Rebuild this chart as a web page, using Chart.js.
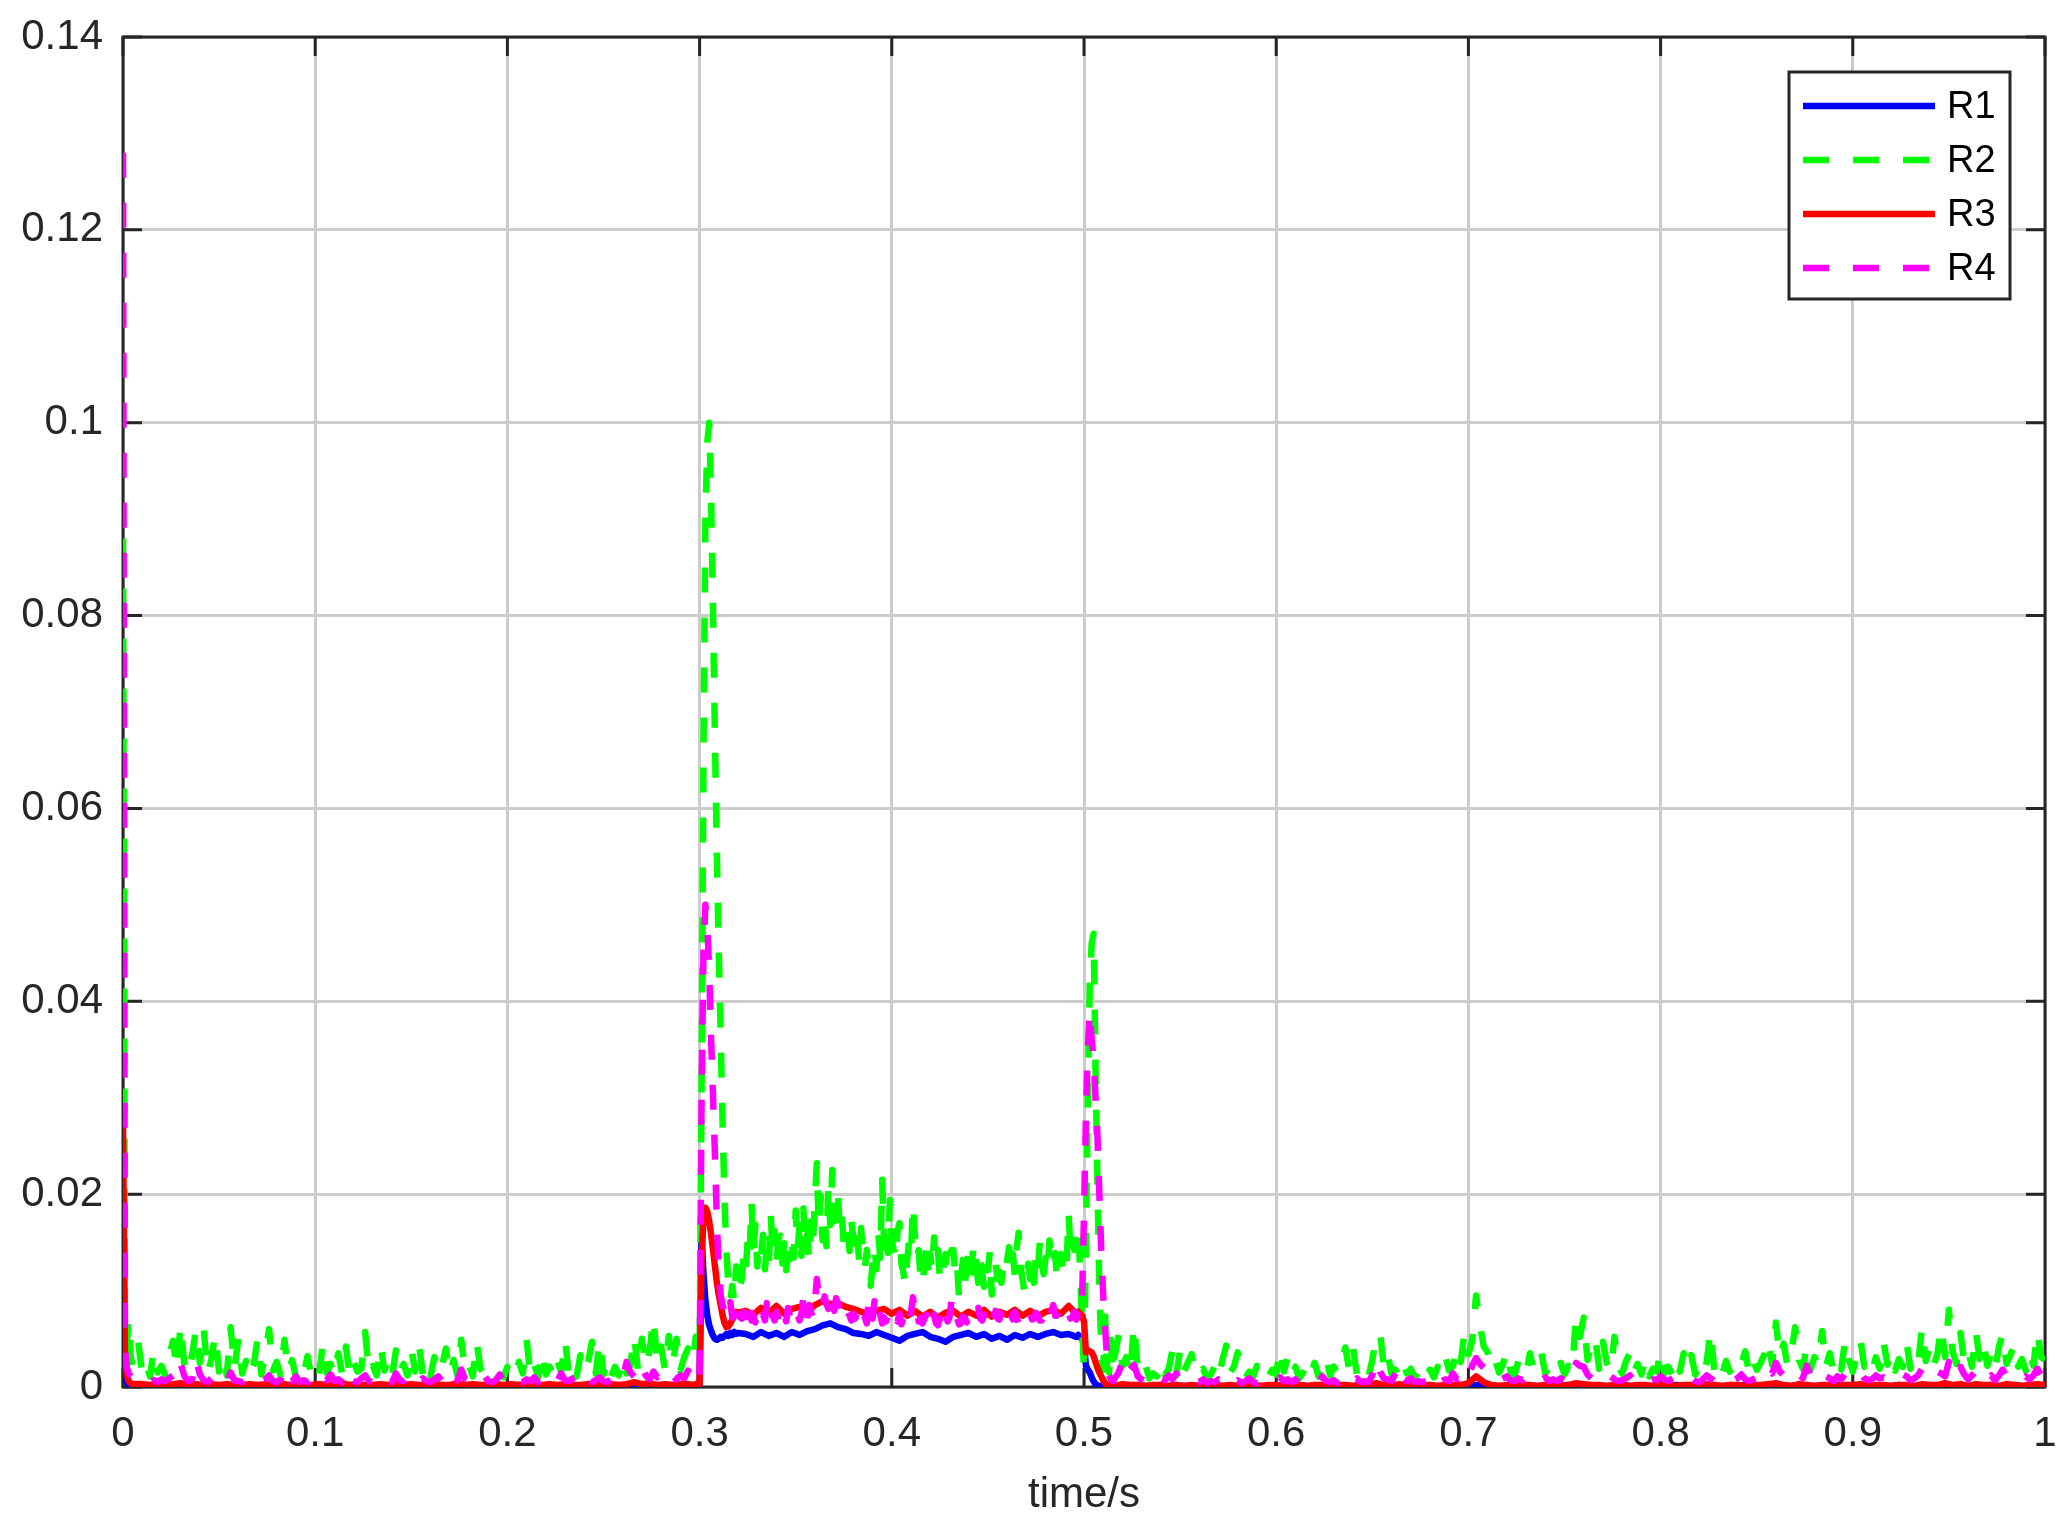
<!DOCTYPE html>
<html>
<head>
<meta charset="utf-8">
<title>R1 - R4</title>
<script src="https://cdn.jsdelivr.net/npm/chart.js@4.4.1/dist/chart.umd.min.js"></script>
<style>
  html, body { margin: 0; padding: 0; background: #fff; }
  canvas { display: block; }
</style>
</head>
<body>
<canvas id="chart" width="2070" height="1535"></canvas>
<script>
// sampling segments: [start time (s), step (s)] - finer around the switching events
const coarseSegments = [[0, 0.001], [0.010, 0.004], [0.297, 0.001], [0.324, 0.004], [0.497, 0.001], [0.520, 0.004]];
const fineSegments = [[0, 0.001], [0.008, 0.002], [0.297, 0.001], [0.322, 0.001], [0.497, 0.001], [0.518, 0.002]];

// R1 and R3 on the coarse segments
const r1 = [
  [0.02, 0.0015, 0.0005, 0.0002, 0.0001, 0.0001, 0.0001],
  [0.0001, 0.0001, 0.0002, 0.0001, 0.0001, 0.0002, 0.0001, 0.0001, 0.0001, 0.0002,
   0.0001, 0.0001, 0.0001, 0.0002, 0.0001, 0.0001, 0.0002, 0.0001, 0.0001, 0.0001,
   0.0002, 0.0001, 0.0001, 0.0001, 0.0002, 0.0001, 0.0001, 0.0002, 0.0001, 0.0001,
   0.0001, 0.0002, 0.0001, 0.0001, 0.0001, 0.0002, 0.0001, 0.0001, 0.0002, 0.0001,
   0.0001, 0.0001, 0.0002, 0.0001, 0.0001, 0.0001, 0.0002, 0.0001, 0.0001, 0.0002,
   0.0001, 0.0001, 0.0001, 0.0002, 0.0001, 0.0001, 0.0002, 0.0001, 0.0001, 0.0001,
   0.0002, 0.0001, 0.0001, 0.0001, 0.0002, 0.0001, 0.0002, 0.0001, 0.0001, 0.0002,
   0.0001, 0.0002],
  [0.0001, 0.0001, 0.0002, 0.0002, 0.0158, 0.0118, 0.009, 0.0074, 0.0064, 0.0058,
   0.0053, 0.005, 0.0049, 0.005, 0.0052, 0.0051, 0.0053, 0.0055, 0.0053, 0.0056,
   0.0054, 0.0057, 0.0055, 0.0056],
  [0.0055, 0.0052, 0.0057, 0.0053, 0.0056, 0.0052, 0.0057, 0.0054, 0.0058, 0.006,
   0.0064, 0.0066, 0.0062, 0.006, 0.0056, 0.0055, 0.0053, 0.0057, 0.0054, 0.0051,
   0.0048, 0.0053, 0.0055, 0.0057, 0.0052, 0.005, 0.0047, 0.0052, 0.0054, 0.0056,
   0.0052, 0.0055, 0.005, 0.0053, 0.0049, 0.0054, 0.0051, 0.0055, 0.0052, 0.0055,
   0.0057, 0.0054, 0.0055, 0.0052],
  [0.0054, 0.0052, 0.005, 0.0045, 0.0022, 0.0018, 0.0015, 0.001, 0.0006, 0.0003,
   0.0002, 0.0001, 0.0001, 0.0001, 0.0001, 0.0001, 0.0001, 0.0001, 0.0001, 0.0001],
  [0.0001, 0.0001, 0.0002, 0.0001, 0.0001, 0.0001, 0.0001, 0.0002, 0.0001, 0.0001,
   0.0001, 0.0002, 0.0001, 0.0001, 0.0001, 0.0001, 0.0002, 0.0001, 0.0001, 0.0001,
   0.0001, 0.0001, 0.0001, 0.0002, 0.0001, 0.0001, 0.0001, 0.0001, 0.0002, 0.0001,
   0.0001, 0.0002, 0.0001, 0.0001, 0.0001, 0.0001, 0.0002, 0.0001, 0.0001, 0.0001,
   0.0001, 0.0001, 0.0001, 0.0001, 0.0002, 0.0001, 0.0002, 0.0001, 0.0001, 0.0001,
   0.0001, 0.0001, 0.0002, 0.0001, 0.0001, 0.0001, 0.0001, 0.0001, 0.0002, 0.0001,
   0.0002, 0.0001, 0.0001, 0.0001, 0.0001, 0.0002, 0.0001, 0.0001, 0.0001, 0.0001,
   0.0001, 0.0001, 0.0002, 0.0001, 0.0001, 0.0001, 0.0002, 0.0001, 0.0001, 0.0001,
   0.0001, 0.0002, 0.0001, 0.0001, 0.0001, 0.0002, 0.0001, 0.0001, 0.0002, 0.0001,
   0.0001, 0.0001, 0.0001, 0.0002, 0.0001, 0.0001, 0.0001, 0.0002, 0.0001, 0.0001,
   0.0001, 0.0002, 0.0001, 0.0001, 0.0001, 0.0002, 0.0001, 0.0001, 0.0001, 0.0002,
   0.0001, 0.0001, 0.0001, 0.0002, 0.0001, 0.0001, 0.0002, 0.0001, 0.0001, 0.0001,
   0.0001]
];

const r3 = [
  [0.027, 0.003, 0.0012, 0.0006, 0.0004, 0.0003, 0.0003],
  [0.0003, 0.0002, 0.0003, 0.0002, 0.0003, 0.0004, 0.0002, 0.0003, 0.0002, 0.0003,
   0.0002, 0.0003, 0.0002, 0.0002, 0.0003, 0.0002, 0.0003, 0.0002, 0.0004, 0.0002,
   0.0003, 0.0002, 0.0002, 0.0003, 0.0002, 0.0003, 0.0004, 0.0002, 0.0003, 0.0002,
   0.0002, 0.0003, 0.0002, 0.0003, 0.0002, 0.0003, 0.0002, 0.0002, 0.0003, 0.0002,
   0.0002, 0.0004, 0.0002, 0.0003, 0.0002, 0.0002, 0.0003, 0.0002, 0.0003, 0.0002,
   0.0003, 0.0002, 0.0002, 0.0003, 0.0002, 0.0003, 0.0002, 0.0002, 0.0003, 0.0003,
   0.0002, 0.0003, 0.0002, 0.0003, 0.0005, 0.0003, 0.0004, 0.0002, 0.0003, 0.0002,
   0.0003, 0.0003],
  [0.0002, 0.0003, 0.0002, 0.0003, 0.013, 0.0175, 0.0186, 0.0182, 0.0172, 0.0158,
   0.0142, 0.0125, 0.0108, 0.0095, 0.0085, 0.0074, 0.0066, 0.0062, 0.0063, 0.0066,
   0.007, 0.0074, 0.0078, 0.0077],
  [0.0079, 0.0075, 0.0082, 0.0077, 0.0084, 0.0076, 0.0081, 0.0083, 0.0077, 0.0085,
   0.0089, 0.0086, 0.0087, 0.0083, 0.0081, 0.0078, 0.0076, 0.0079, 0.0081, 0.0076,
   0.008, 0.0074, 0.0079, 0.0073, 0.0078, 0.0072, 0.0077, 0.0079, 0.0073, 0.0078,
   0.0074, 0.008, 0.0073, 0.0078, 0.0075, 0.008, 0.0074, 0.0079, 0.0073, 0.0078,
   0.008, 0.0076, 0.0084, 0.0076],
  [0.0078, 0.0076, 0.0074, 0.0068, 0.0036, 0.0038, 0.0037, 0.0036, 0.0032, 0.0026,
   0.002, 0.0015, 0.0011, 0.0007, 0.0004, 0.0002, 0.0002, 0.0001, 0.0002, 0.0001],
  [0.0003, 0.0002, 0.0002, 0.0001, 0.0002, 0.0002, 0.0001, 0.0002, 0.0001, 0.0002,
   0.0001, 0.0002, 0.0002, 0.0001, 0.0002, 0.0001, 0.0002, 0.0002, 0.0001, 0.0002,
   0.0002, 0.0001, 0.0002, 0.0002, 0.0001, 0.0002, 0.0002, 0.0001, 0.0002, 0.0002,
   0.0001, 0.0002, 0.0002, 0.0004, 0.0002, 0.0001, 0.0003, 0.0002, 0.0001, 0.0002,
   0.0002, 0.0001, 0.0002, 0.0002, 0.0002, 0.0004, 0.0011, 0.0005, 0.0002, 0.0001,
   0.0002, 0.0001, 0.0002, 0.0002, 0.0001, 0.0002, 0.0002, 0.0001, 0.0002, 0.0004,
   0.0003, 0.0002, 0.0002, 0.0001, 0.0002, 0.0002, 0.0001, 0.0002, 0.0002, 0.0001,
   0.0002, 0.0002, 0.0001, 0.0002, 0.0002, 0.0001, 0.0003, 0.0002, 0.0001, 0.0002,
   0.0002, 0.0001, 0.0002, 0.0002, 0.0003, 0.0004, 0.0002, 0.0001, 0.0003, 0.0002,
   0.0001, 0.0002, 0.0002, 0.0001, 0.0002, 0.0002, 0.0003, 0.0001, 0.0002, 0.0002,
   0.0001, 0.0002, 0.0002, 0.0001, 0.0003, 0.0002, 0.0002, 0.0004, 0.0002, 0.0003,
   0.0001, 0.0003, 0.0002, 0.0002, 0.0001, 0.0003, 0.0002, 0.0001, 0.0002, 0.0003,
   0.0002]
];

// R2 and R4 on the fine segments
const r2 = [
  [0.088, 0.0065, 0.0045, 0.007, 0.0032, 0.0022, 0.0035],
  [0.0046, 0.0013, 0.0024, 0.0011, 0.0038, 0.0015, 0.0022, 0.0012, 0.0031, 0.0048,
   0.0018, 0.0065, 0.0021, 0.0013, 0.0034, 0.006, 0.0025, 0.006, 0.0014, 0.0029,
   0.0055, 0.0016, 0.0031, 0.0012, 0.0062, 0.0019, 0.005, 0.0014, 0.0027, 0.0011,
   0.0023, 0.005, 0.0013, 0.0035, 0.006, 0.0017, 0.0026, 0.0012, 0.0049, 0.0016,
   0.0028, 0.001, 0.0021, 0.0013, 0.0032, 0.0011, 0.0019, 0.0012, 0.0046, 0.0015,
   0.0024, 0.0012, 0.0035, 0.0014, 0.0042, 0.0011, 0.0026, 0.0016, 0.0019, 0.0057,
   0.0014, 0.0022, 0.0012, 0.0044, 0.0017, 0.0028, 0.0011, 0.0038, 0.0015, 0.0024,
   0.0012, 0.004, 0.0016, 0.0044, 0.0013, 0.0025, 0.0011, 0.0031, 0.0014, 0.0022,
   0.004, 0.0013, 0.0028, 0.0012, 0.0049, 0.0016, 0.0023, 0.0011, 0.0047, 0.0019,
   0.0013, 0.0009, 0.0017, 0.0008, 0.0012, 0.001, 0.0021, 0.0009, 0.0015, 0.0026,
   0.0014, 0.0049, 0.0012, 0.0024, 0.001, 0.0037, 0.0013, 0.0021, 0.0011, 0.0028,
   0.0015, 0.0049, 0.0012, 0.0022, 0.0011, 0.0033, 0.0016, 0.0026, 0.0047, 0.0014,
   0.0048, 0.0013, 0.0027, 0.0011, 0.0021, 0.0012, 0.003, 0.0014, 0.0023, 0.0053,
   0.0016, 0.005, 0.0021, 0.0038, 0.0072, 0.0024, 0.0042, 0.0018, 0.0053, 0.0022,
   0.005, 0.0017, 0.0031, 0.004, 0.0026],
  [0.0035, 0.0052, 0.003, 0.004, 0.03, 0.065, 0.09, 0.098, 0.1, 0.092,
   0.08, 0.067, 0.055, 0.045, 0.036, 0.027, 0.019, 0.014, 0.0105, 0.009,
   0.0105, 0.0088, 0.0125, 0.0098],
  [0.0112, 0.0138, 0.0121, 0.0152, 0.0135, 0.0192, 0.0141, 0.0168, 0.0125, 0.0148,
   0.0136, 0.0158, 0.0122, 0.0147, 0.0128, 0.018, 0.0139, 0.0162, 0.0126, 0.0154,
   0.0157, 0.0128, 0.0149, 0.0121, 0.0138, 0.0125, 0.0146, 0.0134, 0.0183, 0.0142,
   0.0168, 0.0136, 0.0185, 0.0144, 0.0158, 0.0131, 0.0172, 0.0149, 0.0195, 0.0232,
   0.0165, 0.0198, 0.0152, 0.0178, 0.0146, 0.0205, 0.0168, 0.0225, 0.0172, 0.0189,
   0.02, 0.0162, 0.0178, 0.0148, 0.0153, 0.0166, 0.0141, 0.0172, 0.0152, 0.0139,
   0.0158, 0.0131, 0.0165, 0.0138, 0.0124, 0.0142, 0.0118, 0.0105, 0.0128, 0.0146,
   0.0122, 0.0158, 0.0134, 0.0215, 0.0145, 0.0168, 0.0139, 0.0194, 0.0152, 0.0141,
   0.0132, 0.0162, 0.017, 0.0128, 0.0119, 0.0105, 0.0132, 0.0151, 0.0138, 0.019,
   0.0158, 0.0133, 0.0142, 0.0112, 0.0105, 0.0128, 0.0146, 0.0124, 0.0138, 0.0121,
   0.0155, 0.0129, 0.0142, 0.0112, 0.0108, 0.0124, 0.0138, 0.0118, 0.0132, 0.0142,
   0.0142, 0.0117, 0.0128, 0.009, 0.0112, 0.0132, 0.0106, 0.0126, 0.0138, 0.0115,
   0.0135, 0.015, 0.0124, 0.0108, 0.0132, 0.0118, 0.0104, 0.0129, 0.0121, 0.014,
   0.0096, 0.0118, 0.0128, 0.0112, 0.0135, 0.0108, 0.0124, 0.0115, 0.0131, 0.0145,
   0.0122, 0.0138, 0.0116, 0.0145, 0.016, 0.0124, 0.0112, 0.0099, 0.0118, 0.0128,
   0.0112, 0.0126, 0.0108, 0.0138, 0.0121, 0.015, 0.0128, 0.0117, 0.0134, 0.0121,
   0.0152, 0.0132, 0.0125, 0.0139, 0.011, 0.0124, 0.0138, 0.0119, 0.0132, 0.0128,
   0.018, 0.0138, 0.0152, 0.0142, 0.0165],
  [0.0168, 0.012, 0.0065, 0.0015, 0.015, 0.03, 0.042, 0.046, 0.047, 0.033,
   0.021, 0.01, 0.004, 0.0018, 0.0073, 0.0022, 0.0015, 0.0049, 0.0014, 0.0032],
  [0.0054, 0.0022, 0.0031, 0.0012, 0.0065, 0.0018, 0.0028, 0.0023, 0.0009, 0.0014,
   0.0011, 0.0026, 0.0013, 0.0018, 0.0038, 0.0012, 0.0038, 0.0016, 0.0025, 0.0034,
   0.0011, 0.0015, 0.0019, 0.0009, 0.0013, 0.0022, 0.001, 0.0028, 0.0043, 0.0015,
   0.0021, 0.0036, 0.0012, 0.0009, 0.0016, 0.0011, 0.0022, 0.0009, 0.0014, 0.0011,
   0.0018, 0.0013, 0.004, 0.0016, 0.003, 0.0012, 0.0021, 0.0009, 0.0015, 0.0024,
   0.0013, 0.0025, 0.0011, 0.0019, 0.0032, 0.0012, 0.0021, 0.0014, 0.0027, 0.0041,
   0.0018, 0.004, 0.0013, 0.0022, 0.0016, 0.0011, 0.0028, 0.0052, 0.0057, 0.0021,
   0.0035, 0.0013, 0.0018, 0.0011, 0.0025, 0.0014, 0.0019, 0.001, 0.0016, 0.0023,
   0.0012, 0.0018, 0.001, 0.0021, 0.0015, 0.0032, 0.0017, 0.0022, 0.0041, 0.0026,
   0.0057, 0.0034, 0.0048, 0.0095, 0.0064, 0.0042, 0.0036, 0.0019, 0.0027, 0.0015,
   0.0024, 0.0038, 0.0016, 0.0012, 0.0027, 0.0019, 0.0013, 0.0035, 0.0017, 0.0024,
   0.0035, 0.0014, 0.0021, 0.0012, 0.0018, 0.0025, 0.0013, 0.0022, 0.0017, 0.0073,
   0.0052, 0.0072, 0.0028, 0.0045, 0.0052, 0.0019, 0.0047, 0.0025, 0.0016, 0.0052,
   0.0022, 0.0014, 0.0027, 0.0035, 0.0015, 0.0024, 0.0013, 0.0029, 0.0011, 0.0019,
   0.0016, 0.0038, 0.0014, 0.0021, 0.0013, 0.0028, 0.0016, 0.0035, 0.0019, 0.0033,
   0.0013, 0.0021, 0.0012, 0.0026, 0.0059, 0.0015, 0.0022, 0.0012, 0.0027, 0.0016,
   0.0021, 0.0014, 0.0024, 0.0037, 0.0015, 0.0029, 0.0018, 0.0025, 0.0034, 0.0049,
   0.0023, 0.0067, 0.0031, 0.0045, 0.0022, 0.0036, 0.0062, 0.0028, 0.0019, 0.0043,
   0.0018, 0.0031, 0.0024, 0.0058, 0.0021, 0.0035, 0.0016, 0.0027, 0.0018, 0.0049,
   0.0028, 0.0016, 0.0033, 0.0049, 0.0021, 0.0026, 0.0015, 0.0031, 0.0019, 0.0047,
   0.0023, 0.0035, 0.0017, 0.0029, 0.0021, 0.0046, 0.0019, 0.0033, 0.0025, 0.0062,
   0.0027, 0.0041, 0.0022, 0.0034, 0.0063, 0.0031, 0.008, 0.0036, 0.0024, 0.0056,
   0.0026, 0.0038, 0.0021, 0.0058, 0.0029, 0.0046, 0.0022, 0.0035, 0.0019, 0.0041,
   0.0055, 0.0024, 0.0033, 0.0044, 0.0021, 0.0029, 0.0017, 0.0036, 0.0022, 0.0058,
   0.0031, 0.0028]
];

const r4 = [
  [0.128, 0.0045, 0.002, 0.0014, 0.0011, 0.0009, 0.0008],
  [0.0008, 0.0006, 0.0009, 0.0005, 0.0007, 0.0005, 0.0008, 0.0006, 0.0009, 0.0012,
   0.0007, 0.0024, 0.0011, 0.0006, 0.0008, 0.0029, 0.0013, 0.0007, 0.0005, 0.0009,
   0.0012, 0.0006, 0.0008, 0.0005, 0.0015, 0.0007, 0.0006, 0.0005, 0.0009, 0.0006,
   0.0005, 0.0009, 0.0006, 0.0008, 0.0012, 0.0006, 0.0005, 0.0008, 0.002, 0.0009,
   0.0006, 0.0011, 0.0005, 0.0007, 0.0005, 0.0009, 0.0006, 0.0005, 0.0012, 0.0007,
   0.0013, 0.0006, 0.0008, 0.0005, 0.0017, 0.0008, 0.0006, 0.0005, 0.0009, 0.0012,
   0.0006, 0.0005, 0.0008, 0.0011, 0.0006, 0.0009, 0.0005, 0.0014, 0.0007, 0.0006,
   0.0012, 0.0006, 0.0008, 0.0005, 0.0009, 0.0006, 0.0005, 0.0008, 0.0011, 0.0006,
   0.0006, 0.0009, 0.0016, 0.0007, 0.0018, 0.0008, 0.0005, 0.0007, 0.0005, 0.0006,
   0.0012, 0.0006, 0.0005, 0.0007, 0.0013, 0.0006, 0.0005, 0.0009, 0.0011, 0.0006,
   0.0005, 0.0008, 0.0006, 0.001, 0.0005, 0.0007, 0.0006, 0.0012, 0.0007, 0.0006,
   0.0014, 0.0007, 0.0006, 0.0009, 0.0011, 0.0006, 0.0013, 0.0008, 0.0005, 0.0007,
   0.001, 0.0006, 0.0005, 0.0009, 0.0012, 0.0007, 0.0009, 0.0026, 0.0015, 0.0011,
   0.0009, 0.0022, 0.0012, 0.0008, 0.0016, 0.001, 0.0012, 0.0009, 0.0017, 0.0011,
   0.0008, 0.0012, 0.0009, 0.0017, 0.0011],
  [0.0008, 0.0012, 0.0006, 0.001, 0.03, 0.045, 0.05, 0.048, 0.043, 0.036,
   0.03, 0.024, 0.017, 0.012, 0.0095, 0.0085, 0.0078, 0.0082, 0.0075, 0.0088,
   0.0072, 0.008, 0.0092, 0.0074],
  [0.0071, 0.0078, 0.0068, 0.0075, 0.0086, 0.0069, 0.0074, 0.0067, 0.0078, 0.0071,
   0.0068, 0.0075, 0.0069, 0.0087, 0.0072, 0.0066, 0.0074, 0.0069, 0.0078, 0.0072,
   0.0065, 0.0071, 0.0078, 0.0068, 0.0082, 0.0073, 0.0067, 0.0072, 0.0068, 0.0075,
   0.0069, 0.0076, 0.0093, 0.0074, 0.0071, 0.0085, 0.0077, 0.0072, 0.0088, 0.0112,
   0.0094, 0.0088, 0.0082, 0.0094, 0.0086, 0.0081, 0.0096, 0.0085, 0.0079, 0.0092,
   0.0087, 0.0079, 0.0083, 0.0076, 0.0072, 0.0078, 0.0074, 0.0069, 0.0076, 0.0071,
   0.0078, 0.0069, 0.0074, 0.0068, 0.0072, 0.0066, 0.0093, 0.0074, 0.0071, 0.0089,
   0.0073, 0.0068, 0.0075, 0.0066, 0.0072, 0.0068, 0.0074, 0.0069, 0.0066, 0.0072,
   0.0074, 0.0068, 0.0076, 0.0065, 0.0071, 0.0067, 0.0072, 0.0065, 0.0078, 0.0093,
   0.0076, 0.0081, 0.0068, 0.0072, 0.0066, 0.0071, 0.0075, 0.0064, 0.0072, 0.0068,
   0.0075, 0.0066, 0.0064, 0.0071, 0.0063, 0.0069, 0.0078, 0.0068, 0.0072, 0.0089,
   0.0082, 0.0068, 0.0071, 0.0065, 0.0066, 0.0073, 0.0072, 0.0067, 0.0074, 0.0069,
   0.0068, 0.0074, 0.0078, 0.0082, 0.0071, 0.0069, 0.0075, 0.0067, 0.0074, 0.0069,
   0.0066, 0.0072, 0.0079, 0.0071, 0.007, 0.0076, 0.0068, 0.0073, 0.0068, 0.0074,
   0.0075, 0.007, 0.0078, 0.0072, 0.0066, 0.0071, 0.0072, 0.0068, 0.0068, 0.0075,
   0.0076, 0.007, 0.0071, 0.0077, 0.0074, 0.0069, 0.0069, 0.0076, 0.0081, 0.0073,
   0.0072, 0.0078, 0.0085, 0.0074, 0.0074, 0.0079, 0.0072, 0.0068, 0.007, 0.0075,
   0.0076, 0.0071, 0.0073, 0.0078, 0.007],
  [0.0075, 0.0072, 0.009, 0.018, 0.028, 0.035, 0.039, 0.036, 0.034, 0.03,
   0.026, 0.02, 0.014, 0.0095, 0.0062, 0.003, 0.0012, 0.0008, 0.0006, 0.0009],
  [0.0015, 0.0026, 0.0012, 0.0018, 0.0023, 0.0011, 0.0008, 0.0006, 0.0009, 0.0011,
   0.0015, 0.0009, 0.0007, 0.0012, 0.0008, 0.0014, 0.0007, 0.0005, 0.0008, 0.0009,
   0.0006, 0.0005, 0.0008, 0.0004, 0.0006, 0.0005, 0.0008, 0.0006, 0.0012, 0.0007,
   0.0005, 0.0007, 0.0004, 0.0006, 0.0009, 0.0005, 0.0004, 0.0007, 0.0005, 0.0006,
   0.0004, 0.0005, 0.001, 0.0006, 0.0008, 0.0005, 0.0008, 0.0004, 0.0006, 0.0005,
   0.0004, 0.0007, 0.0005, 0.0011, 0.0006, 0.0005, 0.0007, 0.0004, 0.0008, 0.0013,
   0.0007, 0.0006, 0.0009, 0.0005, 0.0006, 0.0005, 0.0012, 0.0028, 0.0016, 0.0009,
   0.0008, 0.0006, 0.0014, 0.0023, 0.0009, 0.0006, 0.0009, 0.0005, 0.0006, 0.0005,
   0.0006, 0.0008, 0.0005, 0.0012, 0.0006, 0.0008, 0.0006, 0.0014, 0.0008, 0.0009,
   0.0018, 0.0012, 0.0022, 0.003, 0.0024, 0.002, 0.0012, 0.001, 0.0008, 0.0007,
   0.0009, 0.0011, 0.0007, 0.0006, 0.0009, 0.0007, 0.0012, 0.0008, 0.0006, 0.0005,
   0.0007, 0.001, 0.0006, 0.0008, 0.0006, 0.0009, 0.0007, 0.0012, 0.0009, 0.0025,
   0.0022, 0.0021, 0.0013, 0.0009, 0.0012, 0.0008, 0.0007, 0.0006, 0.0011, 0.0008,
   0.0006, 0.0007, 0.0009, 0.0012, 0.0007, 0.0008, 0.0005, 0.0009, 0.0006, 0.0008,
   0.0007, 0.0011, 0.0008, 0.0006, 0.0009, 0.0011, 0.0013, 0.0009, 0.0007, 0.0009,
   0.0006, 0.0005, 0.0008, 0.0012, 0.0009, 0.0006, 0.0008, 0.001, 0.0007, 0.0005,
   0.0007, 0.0009, 0.0013, 0.0008, 0.0006, 0.0008, 0.001, 0.0007, 0.0012, 0.0018,
   0.0014, 0.0025, 0.0016, 0.0012, 0.0009, 0.0011, 0.0017, 0.0013, 0.0009, 0.0022,
   0.0012, 0.0008, 0.0011, 0.0016, 0.0011, 0.0009, 0.0006, 0.0011, 0.0008, 0.0014,
   0.0011, 0.0009, 0.0012, 0.0015, 0.0009, 0.0007, 0.0008, 0.0012, 0.0009, 0.001,
   0.0008, 0.0006, 0.0011, 0.0009, 0.0013, 0.0011, 0.0007, 0.0009, 0.0012, 0.0019,
   0.0011, 0.0009, 0.0012, 0.0016, 0.0014, 0.0011, 0.0026, 0.0016, 0.001, 0.0021,
   0.0013, 0.0008, 0.0012, 0.0017, 0.0011, 0.0014, 0.0009, 0.0012, 0.0007, 0.0012,
   0.0018, 0.0011, 0.0012, 0.0009, 0.0006, 0.0008, 0.0011, 0.0008, 0.0012, 0.0019,
   0.0012, 0.0009]
];

const seriesNames = ['R1', 'R2', 'R3', 'R4'];
const seriesColors = ['#0000ff', '#00ff00', '#ff0000', '#ff00ff'];
const seriesDashed = [false, true, false, true];
const seriesValues = [r1, r2, r3, r4];
const seriesSegments = [coarseSegments, fineSegments, coarseSegments, fineSegments];

const xTicks = [0, 0.1, 0.2, 0.3, 0.4, 0.5, 0.6, 0.7, 0.8, 0.9, 1];
const yTicks = [0, 0.02, 0.04, 0.06, 0.08, 0.1, 0.12, 0.14];

const FONT = "'Liberation Sans', Arial, Helvetica, sans-serif";
const LINE_W = 6.5;

// pair every value with its sample time
function toPoints(segments, parts) {
  const pts = [];
  parts.forEach((vals, k) => {
    const t0 = segments[k][0];
    const dt = segments[k][1];
    vals.forEach((v, i) => pts.push({ x: +(t0 + i * dt).toFixed(4), y: v }));
  });
  return pts;
}

const datasets = seriesNames.map((name, i) => ({
  label: name,
  data: toPoints(seriesSegments[i], seriesValues[i]),
  borderColor: seriesColors[i],
  backgroundColor: seriesColors[i],
  borderWidth: LINE_W,
  borderDash: seriesDashed[i] ? [25, 25] : [],
  borderCapStyle: 'butt',
  borderJoinStyle: 'round',
  pointRadius: 0,
  tension: 0,
  fill: false,
  // R4 on top, R1 at the bottom, like the plotting order
  order: seriesNames.length - i
}));

// box around the plot + inward tick marks on all four sides
const axesBox = {
  id: 'axesBox',
  beforeDatasetsDraw(chart) {
    const { ctx, chartArea: a, scales } = chart;
    const len = 19;
    ctx.save();
    ctx.strokeStyle = '#262626';
    ctx.lineWidth = 3;
    ctx.beginPath();
    xTicks.forEach(v => {
      const px = scales.x.getPixelForValue(v);
      ctx.moveTo(px, a.bottom); ctx.lineTo(px, a.bottom - len);
      ctx.moveTo(px, a.top); ctx.lineTo(px, a.top + len);
    });
    yTicks.forEach(v => {
      const py = scales.y.getPixelForValue(v);
      ctx.moveTo(a.left, py); ctx.lineTo(a.left + len, py);
      ctx.moveTo(a.right, py); ctx.lineTo(a.right - len, py);
    });
    ctx.stroke();
    ctx.strokeRect(a.left, a.top, a.right - a.left, a.bottom - a.top);
    ctx.restore();
  }
};

// legend box in the upper right corner
const legendBox = {
  id: 'legendBox',
  afterDraw(chart) {
    const { ctx, chartArea: a } = chart;
    const w = 221, h = 227;
    const bx = a.right - 256, by = a.top + 35;
    ctx.save();
    ctx.fillStyle = '#ffffff';
    ctx.fillRect(bx, by, w, h);
    ctx.strokeStyle = '#262626';
    ctx.lineWidth = 3;
    ctx.strokeRect(bx, by, w, h);

    ctx.font = '38px ' + FONT;
    ctx.textBaseline = 'middle';
    ctx.textAlign = 'left';
    seriesNames.forEach((name, i) => {
      const ry = by + 34 + i * 54;
      ctx.beginPath();
      ctx.strokeStyle = seriesColors[i];
      ctx.lineWidth = LINE_W;
      ctx.lineCap = 'butt';
      ctx.setLineDash(seriesDashed[i] ? [26, 24] : []);
      ctx.moveTo(bx + 14, ry);
      ctx.lineTo(bx + 146, ry);
      ctx.stroke();
      ctx.setLineDash([]);
      ctx.fillStyle = '#000000';
      ctx.fillText(name, bx + 158, ry + 2);
    });
    ctx.restore();
  }
};

function tickText(v) {
  return String(Number(v.toFixed(2)));
}

const chart = new Chart(document.getElementById('chart'), {
  type: 'line',
  data: { datasets: datasets },
  options: {
    responsive: false,
    animation: false,
    devicePixelRatio: 1,
    events: [],
    layout: { padding: { left: 0, right: 25, top: 37, bottom: 0 } },
    plugins: {
      legend: { display: false },
      tooltip: { enabled: false }
    },
    scales: {
      x: {
        type: 'linear',
        min: 0,
        max: 1,
        afterFit(scale) {
          scale.height = 148;
          scale.paddingLeft = 0;
          scale.paddingRight = 0;
        },
        afterBuildTicks(scale) { scale.ticks = xTicks.map(v => ({ value: v })); },
        grid: { color: '#cccccc', lineWidth: 3, drawTicks: false },
        border: { display: false },
        ticks: {
          padding: 22,
          maxRotation: 0,
          autoSkip: false,
          color: '#262626',
          font: { family: FONT, size: 42 },
          callback: tickText
        },
        title: {
          display: true,
          text: 'time/s',
          color: '#262626',
          font: { family: FONT, size: 42 },
          padding: { top: 0, bottom: 14 }
        }
      },
      y: {
        type: 'linear',
        min: 0,
        max: 0.14,
        afterFit(scale) {
          scale.width = 123;
          scale.paddingTop = 0;
          scale.paddingBottom = 0;
        },
        afterBuildTicks(scale) { scale.ticks = yTicks.map(v => ({ value: v })); },
        grid: { color: '#cccccc', lineWidth: 3, drawTicks: false },
        border: { display: false },
        ticks: {
          padding: 20,
          autoSkip: false,
          color: '#262626',
          font: { family: FONT, size: 42 },
          callback: tickText
        }
      }
    }
  },
  plugins: [axesBox, legendBox]
});
</script>
</body>
</html>
